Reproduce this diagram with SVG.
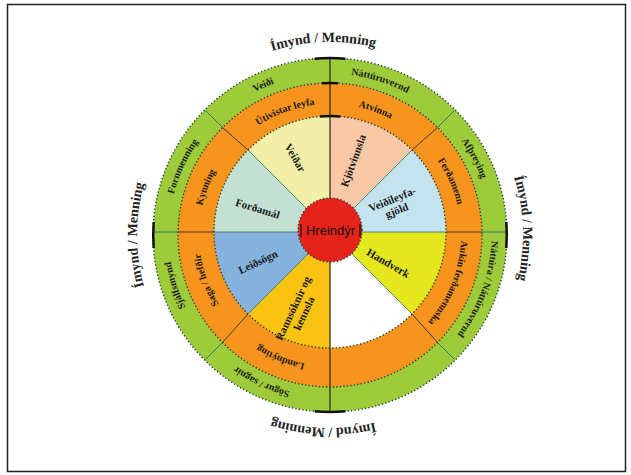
<svg xmlns="http://www.w3.org/2000/svg" xmlns:xlink="http://www.w3.org/1999/xlink" width="631" height="475" viewBox="0 0 631 475">
<style>
text{font-family:"Liberation Serif","DejaVu Serif",serif;font-weight:bold;fill:#1a1a1a}
.title{font-size:14px;fill:#222}
.ring{font-size:10px}
.pie{font-size:11px}
.dot{fill:none;stroke:#1d3b3b;stroke-width:1.4;stroke-dasharray:1.3 2.2}
.div{stroke:#3b3b3b;stroke-width:1}
.gdiv{stroke:#2a7a6a;stroke-width:1}
.edge{stroke:#2f6f6f;stroke-width:0.8}
.mark{fill:none;stroke:#111;stroke-width:2.5}
</style>
<defs>
<path id="arcT" d="M137,235 A193,193 0 0 1 523,235"/>
<path id="arcG" d="M168.5,235 A161.5,161.5 0 0 1 491.5,235"/>
<path id="arcO" d="M199,235 A131,131 0 0 1 461,235"/>
</defs>
<rect x="0" y="0" width="631" height="475" fill="#fff"/>
<rect x="7.5" y="4.5" width="618" height="467" fill="none" stroke="#222" stroke-width="1.5"/>

<g id="rings">
<circle cx="330" cy="235" r="177" fill="#9dcb3a"/>
<circle cx="330" cy="235" r="152" fill="#f7941d"/>
</g>

<g id="sectors">
<g id="s-kjot"><path d="M330,232 L330,116 A116,116 0 0 1 412.02,149.98 Z" fill="#f9c8a6"/>
<text class="pie" transform="translate(353.2,160.7) rotate(-70)" text-anchor="middle" dy="0.35em">Kjötvinnsla</text></g>
<g id="s-veidileyfi"><path d="M330,232 L412.02,149.98 A116,116 0 0 1 446,232 Z" fill="#c3e3ef"/>
<text class="pie" transform="translate(394.4,204.6) rotate(-22)" text-anchor="middle"><tspan x="0" y="-2">Veiðileyfa-</tspan><tspan x="0" y="10">gjöld</tspan></text></g>
<g id="s-handverk"><path d="M330,232 L446,232 A116,116 0 0 1 412.02,314.02 Z" fill="#e4e61e"/>
<text class="pie" transform="translate(388.3,263) rotate(30)" text-anchor="middle" dy="0.35em">Handverk</text></g>
<g id="s-empty"><path d="M330,232 L412.02,314.02 A116,116 0 0 1 330,348 Z" fill="#ffffff"/></g>
<g id="s-rannsoknir"><path d="M330,232 L330,348 A116,116 0 0 1 247.98,314.02 Z" fill="#f9c312"/>
<text class="pie" transform="translate(298.2,310.8) rotate(-65)" text-anchor="middle"><tspan x="0" y="-2">Rannsóknir og</tspan><tspan x="0" y="10">kennsla</tspan></text></g>
<g id="s-leidsogn"><path d="M330,232 L247.98,314.02 A116,116 0 0 1 214,232 Z" fill="#86b3de"/>
<text class="pie" transform="translate(257.9,261.8) rotate(-25)" text-anchor="middle" dy="0.35em">Leiðsögn</text></g>
<g id="s-fordamal"><path d="M330,232 L214,232 A116,116 0 0 1 247.98,149.98 Z" fill="#c3e1d3"/>
<text class="pie" transform="translate(257.7,208.5) rotate(17)" text-anchor="middle" dy="0.35em">Forðamál</text></g>
<g id="s-veidar"><path d="M330,232 L247.98,149.98 A116,116 0 0 1 330,116 Z" fill="#f2f0a8"/>
<text class="pie" transform="translate(295.3,157.7) rotate(60)" text-anchor="middle" dy="0.35em">Veiðar</text></g>
</g>

<g id="connectors">
<line class="edge" x1="330" y1="232" x2="412.02" y2="149.98"/>
<line class="edge" x1="330" y1="232" x2="412.02" y2="314.02"/>
<line class="edge" x1="330" y1="232" x2="247.98" y2="314.02"/>
<line class="edge" x1="330" y1="232" x2="247.98" y2="149.98"/>
<line class="edge" x1="214" y1="232" x2="446" y2="232"/>
<line class="div" x1="412.02" y1="149.98" x2="437.48" y2="127.52"/>
<line class="div" x1="412.02" y1="314.02" x2="437.48" y2="342.48"/>
<line class="div" x1="247.98" y1="314.02" x2="222.52" y2="342.48"/>
<line class="div" x1="247.98" y1="149.98" x2="222.52" y2="127.52"/>
<line class="gdiv" x1="437.48" y1="127.52" x2="454.45" y2="110.55"/>
<line class="gdiv" x1="437.48" y1="342.48" x2="454.45" y2="359.45"/>
<line class="gdiv" x1="222.52" y1="342.48" x2="205.55" y2="359.45"/>
<line class="gdiv" x1="222.52" y1="127.52" x2="205.55" y2="110.55"/>
<line class="div" x1="178" y1="232" x2="214" y2="232"/>
<line class="div" x1="446" y1="232" x2="482" y2="232"/>
<line class="gdiv" x1="153" y1="232" x2="178" y2="232"/>
<line class="gdiv" x1="482" y1="232" x2="507" y2="232"/>
<line x1="330" y1="59" x2="330" y2="411" stroke="#222" stroke-width="1.2"/>
<circle class="dot" cx="330" cy="235" r="177"/>
<circle class="dot" cx="330" cy="235" r="152"/>
<circle class="dot" cx="330" cy="232" r="116"/>
<path class="mark" d="M314.6,58.7 A177,177 0 0 1 345.4,58.7"/>
<path class="mark" d="M345.4,411.3 A177,177 0 0 1 314.6,411.3"/>
<path class="mark" d="M506.3,222 A177,177 0 0 1 506.3,248"/>
<path class="mark" d="M153.7,248 A177,177 0 0 1 153.7,222"/>
<path class="mark" d="M322,83.2 A152,152 0 0 1 338,83.2" stroke-width="2"/>
<path class="mark" d="M319.9,116.4 A116,116 0 0 1 340.1,116.4" stroke-width="2"/>
</g>

<g id="center">
<circle cx="330" cy="230" r="32" fill="#e5231b"/>
<circle class="dot" cx="330" cy="230" r="32"/>
<line x1="301" y1="224" x2="301" y2="237" stroke="#111" stroke-width="1.2"/>
<line x1="360" y1="224" x2="360" y2="237" stroke="#111" stroke-width="1.2"/>
<text x="330.5" y="235" text-anchor="middle" style="font-family:'Liberation Sans',Arial,sans-serif;font-weight:normal;font-size:13px;fill:#111">Hreindýr</text>
</g>

<g id="orange-labels">
<g id="o-utivist"><text class="ring" transform="rotate(340 330 235)"><textPath href="#arcO" xlink:href="#arcO" startOffset="50%" text-anchor="middle">Útivistar leyfa</textPath></text></g>
<g id="o-atvinna"><text class="ring" transform="rotate(20 330 235)"><textPath href="#arcO" xlink:href="#arcO" startOffset="50%" text-anchor="middle">Atvinna</textPath></text></g>
<g id="o-ferdamenn"><text class="ring" transform="rotate(66 330 235)"><textPath href="#arcO" xlink:href="#arcO" startOffset="50%" text-anchor="middle">Ferðamenn</textPath></text></g>
<g id="o-aukin"><text class="ring" transform="rotate(112 330 235)"><textPath href="#arcO" xlink:href="#arcO" startOffset="50%" text-anchor="middle">Aukin ferðamennska</textPath></text></g>
<g id="o-landnyting"><text class="ring" transform="rotate(202 330 235)"><textPath href="#arcO" xlink:href="#arcO" startOffset="50%" text-anchor="middle">Landnýting</textPath></text></g>
<g id="o-saga"><text class="ring" transform="rotate(250 330 235)"><textPath href="#arcO" xlink:href="#arcO" startOffset="50%" text-anchor="middle">Saga / hefðir</textPath></text></g>
<g id="o-kynning"><text class="ring" transform="rotate(291 330 235)"><textPath href="#arcO" xlink:href="#arcO" startOffset="50%" text-anchor="middle">Kynning</textPath></text></g>
</g>

<g id="green-labels">
<g id="g-veidi"><text class="ring" transform="rotate(336 330 235)"><textPath href="#arcG" xlink:href="#arcG" startOffset="50%" text-anchor="middle">Veiði</textPath></text></g>
<g id="g-nattura"><text class="ring" transform="rotate(18 330 235)"><textPath href="#arcG" xlink:href="#arcG" startOffset="50%" text-anchor="middle">Náttúruvernd</textPath></text></g>
<g id="g-afthreying"><text class="ring" transform="rotate(62 330 235)"><textPath href="#arcG" xlink:href="#arcG" startOffset="50%" text-anchor="middle">Afþreying</textPath></text></g>
<g id="g-natturuvernd"><text class="ring" transform="rotate(110 330 235)"><textPath href="#arcG" xlink:href="#arcG" startOffset="50%" text-anchor="middle">Náttúra / Náttúruvernd</textPath></text></g>
<g id="g-sogur"><text class="ring" transform="rotate(205 330 235)"><textPath href="#arcG" xlink:href="#arcG" startOffset="50%" text-anchor="middle">Sögur / sagnir</textPath></text></g>
<g id="g-sjalfsmynd"><text class="ring" transform="rotate(252 330 235)"><textPath href="#arcG" xlink:href="#arcG" startOffset="50%" text-anchor="middle">Sjálfsmynd</textPath></text></g>
<g id="g-fornmenning"><text class="ring" transform="rotate(295 330 235)"><textPath href="#arcG" xlink:href="#arcG" startOffset="50%" text-anchor="middle">Fornmenning</textPath></text></g>
</g>

<g id="titles">
<g id="t-top"><text class="title" transform="rotate(358 330 235)"><textPath href="#arcT" xlink:href="#arcT" startOffset="50%" text-anchor="middle">Ímynd / Menning</textPath></text></g>
<g id="t-right"><text class="title" transform="rotate(88 330 235)"><textPath href="#arcT" xlink:href="#arcT" startOffset="50%" text-anchor="middle">Ímynd / Menning</textPath></text></g>
<g id="t-bottom"><text class="title" transform="rotate(182 330 235)"><textPath href="#arcT" xlink:href="#arcT" startOffset="50%" text-anchor="middle">Ímynd / Menning</textPath></text></g>
<g id="t-left"><text class="title" transform="rotate(270 330 235)"><textPath href="#arcT" xlink:href="#arcT" startOffset="50%" text-anchor="middle">Ímynd / Menning</textPath></text></g>
</g>
</svg>
